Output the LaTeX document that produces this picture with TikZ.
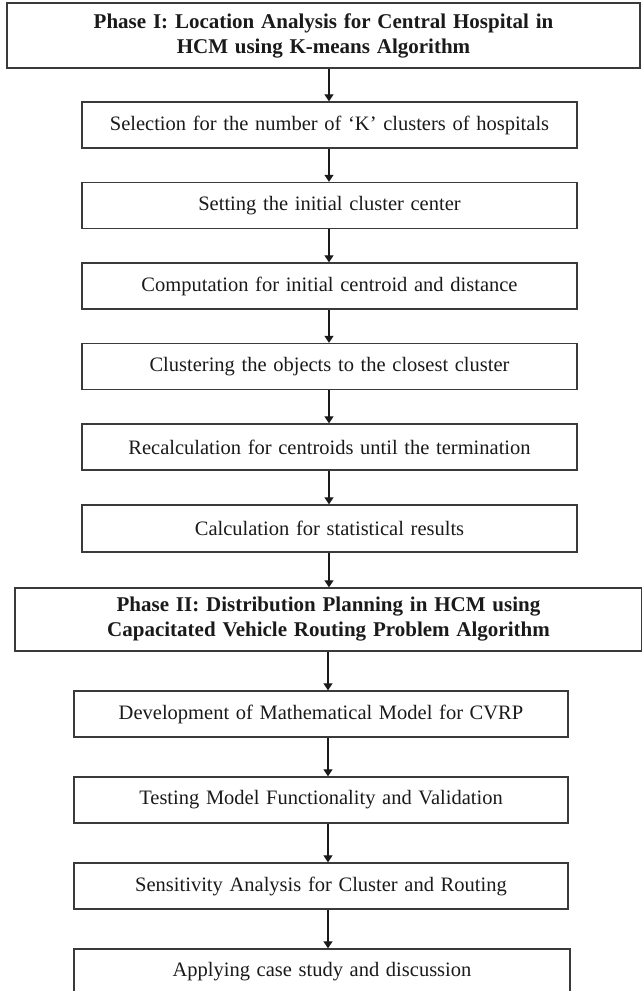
\documentclass[tikz,border=0pt]{standalone}
\usepackage{fontspec}
\setmainfont{Liberation Serif}[WordSpace=1.3]
\usetikzlibrary{arrows.meta}
\definecolor{edge}{HTML}{3A3A3A}
\definecolor{ink}{HTML}{1A1A1A}
\tikzset{
  box/.style={draw=edge, line width=1.4pt, rectangle, inner sep=0pt, align=center,
    text=ink, font=\fontsize{20.5}{24}\selectfont},
  phasebox/.style={box, font=\fontsize{21}{25}\selectfont\bfseries},
  arr/.style={draw=ink, line width=1.2pt, -{Triangle[width=9pt,length=7pt]}}
}
\begin{document}
\begin{tikzpicture}[x=1pt,y=-1pt]
\useasboundingbox (0,0) rectangle (642,991);
\node[phasebox, minimum width=633pt, minimum height=65pt] (p1) at (323.5,35.5)
  {Phase I: Location Analysis for Central Hospital in\\HCM using K-means Algorithm};
\node[box, minimum width=495pt, minimum height=46pt] (s1) at (329.5,125)
  {Selection for the number of ‘K’ clusters of hospitals};
\node[box, minimum width=495pt, minimum height=46pt] (s2) at (329.5,205.5)
  {Setting the initial cluster center};
\node[box, minimum width=495pt, minimum height=46pt] (s3) at (329.5,286)
  {Computation for initial centroid and distance};
\node[box, minimum width=495pt, minimum height=46pt] (s4) at (329.5,366.5)
  {Clustering the objects to the closest cluster};
\node[box, minimum width=495pt, minimum height=46pt] (s5) at (329.5,447)
  {Recalculation for centroids until the termination};
\node[box, minimum width=495pt, minimum height=47pt] (s6) at (329.5,528.5)
  {Calculation for statistical results};
\node[phasebox, minimum width=627pt, minimum height=63pt] (p2) at (328.5,619.5)
  {Phase II: Distribution Planning in HCM using\\Capacitated Vehicle Routing Problem Algorithm};
\node[box, minimum width=494pt, minimum height=46pt] (d1) at (321,714)
  {Development of Mathematical Model for CVRP};
\node[box, minimum width=494pt, minimum height=46pt] (d2) at (321,800)
  {Testing Model Functionality and Validation};
\node[box, minimum width=494pt, minimum height=46pt] (d3) at (321,886)
  {Sensitivity Analysis for Cluster and Routing};
\node[box, minimum width=496pt, minimum height=46pt] (d4) at (322,972)
  {Applying case study and discussion};
\coordinate (ax) at (329,0);
\coordinate (bx) at (328,0);
\draw[arr] (p1.south -| ax) -- (s1.north -| ax);
\draw[arr] (s1.south -| ax) -- (s2.north -| ax);
\draw[arr] (s2.south -| ax) -- (s3.north -| ax);
\draw[arr] (s3.south -| ax) -- (s4.north -| ax);
\draw[arr] (s4.south -| ax) -- (s5.north -| ax);
\draw[arr] (s5.south -| ax) -- (s6.north -| ax);
\draw[arr] (s6.south -| ax) -- (p2.north -| ax);
\draw[arr] (p2.south -| bx) -- (d1.north -| bx);
\draw[arr] (d1.south -| bx) -- (d2.north -| bx);
\draw[arr] (d2.south -| bx) -- (d3.north -| bx);
\draw[arr] (d3.south -| bx) -- (d4.north -| bx);
\end{tikzpicture}
\end{document}
